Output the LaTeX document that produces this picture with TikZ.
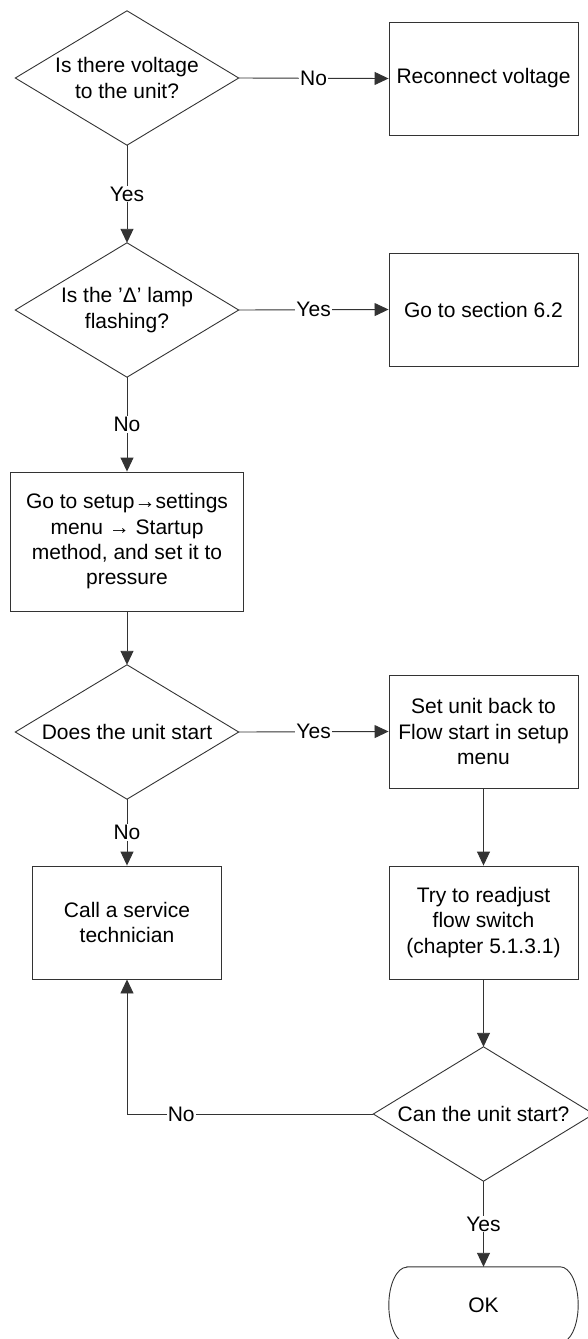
\documentclass[tikz,border=0pt]{standalone}
\usepackage{fontspec}
\setmainfont{Liberation Sans}
\usetikzlibrary{arrows.meta}
\definecolor{linec}{gray}{0.2}
\begin{document}
\begin{tikzpicture}[x=1pt,y=-1pt,
  every node/.style={font=\fontsize{21}{25.3}\selectfont, align=center, text=black},
  box/.style={draw=linec, line width=0.9pt, inner sep=0pt, minimum width=189pt, minimum height=113pt},
  dia/.style={inner sep=0pt, minimum width=223pt, minimum height=134pt},
  ln/.style={draw=linec, line width=0.9pt},
  arr/.style={ln, -{Triangle[length=14pt,width=13pt]}},
  lab/.style={fill=white, inner sep=1pt}
]
\useasboundingbox (0,0) rectangle (587,1339);

% nodes
\node[dia] (d1) at (127,78) {Is there voltage\\to the unit?};
\node[box] (r1) at (483.5,78.5) {Reconnect voltage};
\node[dia] (d2) at (127,310) {Is the ’Δ’ lamp\\flashing?};
\node[box] (r2) at (483.5,309.5) {Go to section 6.2};
\node[box, minimum width=233pt, minimum height=139pt] (b3) at (127,541.5) {Go to setup→settings\\menu → Startup\\method, and set it to\\pressure};
\node[dia] (d4) at (127,732) {Does the unit start};
\node[box] (r4) at (483.5,731.5) {Set unit back to\\Flow start in setup\\menu};
\node[box] (call) at (127,922.5) {Call a service\\technician};
\node[box] (try) at (483.5,922.5) {Try to readjust\\flow switch\\(chapter 5.1.3.1)};
\node[dia, minimum width=220pt] (d5) at (483.5,1114) {Can the unit start?};
\node[inner sep=0pt, minimum width=189pt, minimum height=76pt] (ok) at (483.5,1305) {OK};

% diamonds
\foreach \d in {d1,d2,d4,d5}{
  \draw[ln, line join=miter] (\d.north) -- (\d.east) -- (\d.south) -- (\d.west) -- cycle;
}
% terminal
\draw[ln] ([xshift=18pt]ok.north west) -- ([xshift=-18pt]ok.north east)
  arc[start angle=90,end angle=-90,x radius=18pt,y radius=38pt]
  -- ([xshift=18pt]ok.south west)
  arc[start angle=270,end angle=90,x radius=18pt,y radius=38pt] -- cycle;

% connectors
\draw[arr] (d1.east) -- node[lab]{No} (r1.west);
\draw[arr] (d1.south) -- node[lab]{Yes} (d2.north);
\draw[arr] (d2.east) -- node[lab]{Yes} (r2.west);
\draw[arr] (d2.south) -- node[lab]{No} (b3.north);
\draw[arr] (b3.south) -- (d4.north);
\draw[arr] (d4.east) -- node[lab]{Yes} (r4.west);
\draw[arr] (d4.south) -- node[lab]{No} (call.north);
\draw[arr] (r4.south) -- (try.north);
\draw[arr] (try.south) -- (d5.north);
\draw[arr] (d5.west) -| node[lab,pos=0.39]{No} (call.south);
\draw[arr] (d5.south) -- node[lab]{Yes} (ok.north);
\end{tikzpicture}
\end{document}
